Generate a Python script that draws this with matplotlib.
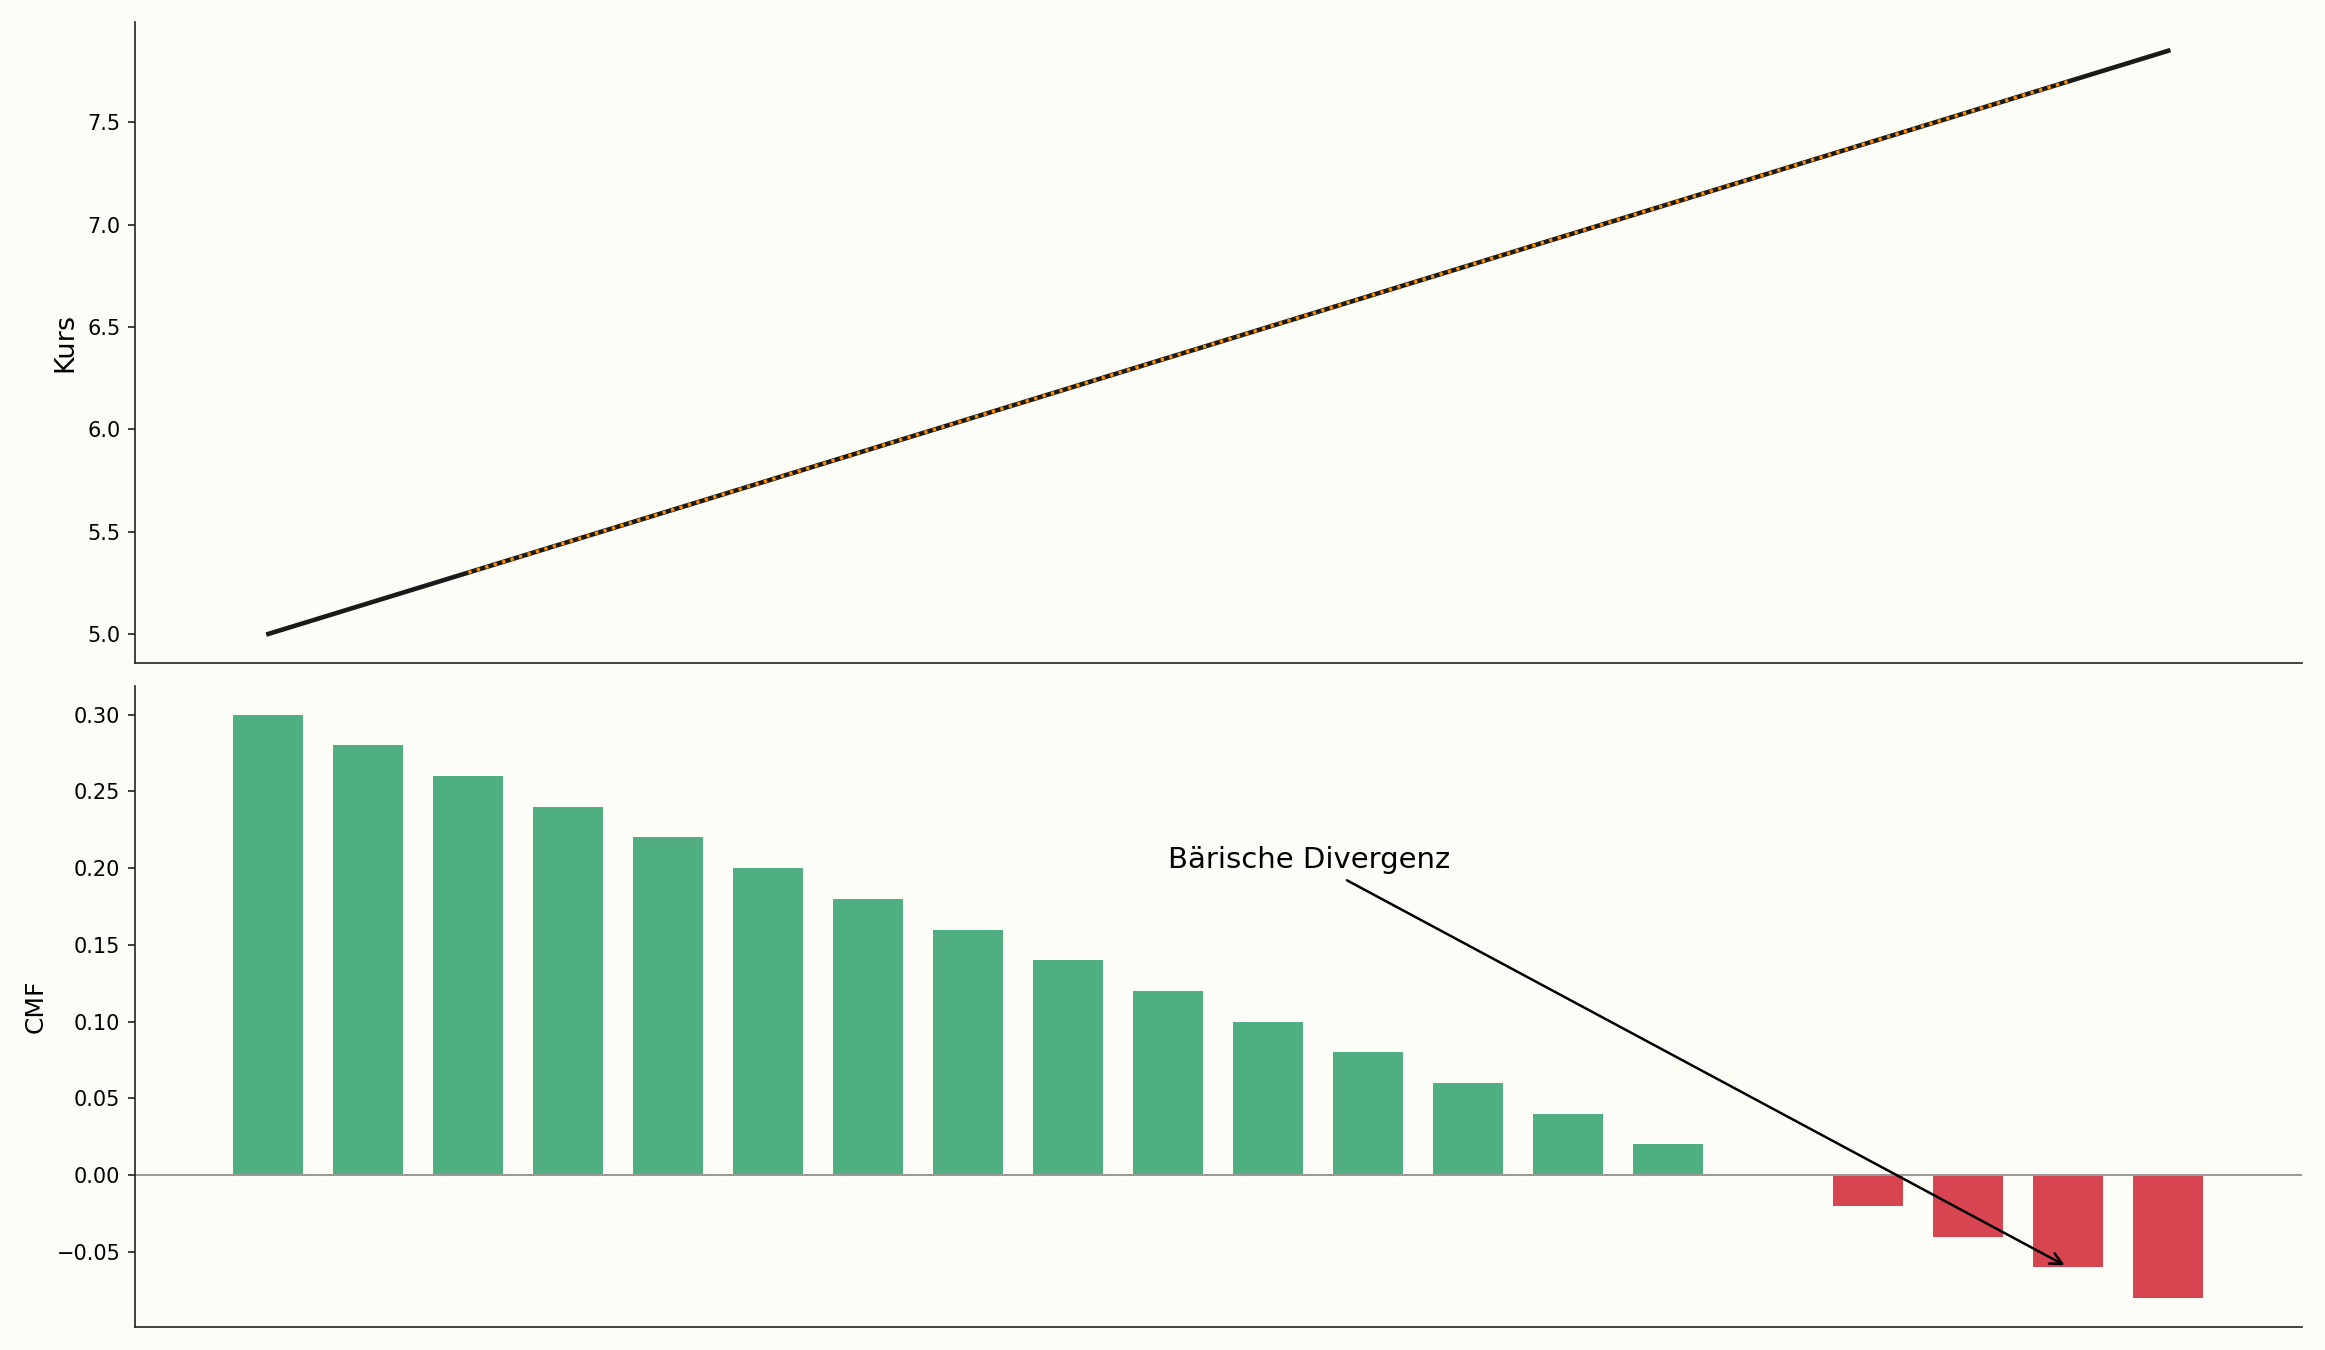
import numpy as np
import matplotlib
matplotlib.use("Agg")
import matplotlib.pyplot as plt

# ── Data ───────────────────────────────────────────────────────────────────────
days = list(range(20))
kurs = [5.00, 5.15, 5.30, 5.45, 5.60, 5.75, 5.90, 6.05, 6.20, 6.35,
        6.50, 6.65, 6.80, 6.95, 7.10, 7.25, 7.40, 7.55, 7.70, 7.85]
trend_days = list(range(2, 19))
trend = [5.30, 5.45, 5.60, 5.75, 5.90, 6.05, 6.20, 6.35, 6.50,
         6.65, 6.80, 6.95, 7.10, 7.25, 7.40, 7.55, 7.70]
cmf = [0.30, 0.28, 0.26, 0.24, 0.22, 0.20, 0.18, 0.16, 0.14, 0.12,
       0.10, 0.08, 0.06, 0.04, 0.02, 0.00, -0.02, -0.04, -0.06, -0.08]

BG = "#fdfdf8"
GREEN = "#4faf80"
RED = "#d64550"

# ── Plot ───────────────────────────────────────────────────────────────────────
fig, (ax_p, ax_c) = plt.subplots(2, 1, figsize=(15.5, 9), dpi=150, sharex=True,
                                 gridspec_kw=dict(hspace=0.035))
fig.patch.set_facecolor(BG)
fig.subplots_adjust(left=0.058, right=0.99, top=0.984, bottom=0.017)

ax_p.plot(days, kurs, color="#1a1a1a", lw=2.2)
ax_p.plot(trend_days, trend, color="darkorange", ls=":", lw=1.6)
ax_p.set_ylabel("Kurs", fontsize=13)

cols = [GREEN if v >= 0 else RED for v in cmf]
ax_c.bar(days, cmf, width=0.7, color=cols)
ax_c.axhline(0, color="#999999", lw=1.0)
ax_c.set_ylabel("CMF", fontsize=12)
ax_c.annotate("Bärische Divergenz", xy=(18, -0.06), xytext=(9, 0.20),
              fontsize=14, arrowprops=dict(arrowstyle="->", color="black", lw=1.2))

for ax in (ax_p, ax_c):
    ax.set_facecolor(BG)
    ax.spines["top"].set_visible(False)
    ax.spines["right"].set_visible(False)
    for s in ("left", "bottom"):
        ax.spines[s].set_color("#222222")
    ax.tick_params(axis="y", labelsize=10, colors="#222222", labelcolor="black")
    ax.tick_params(axis="x", bottom=False, labelbottom=False)

plt.savefig("out.png", dpi=150, facecolor=BG)
plt.close()
